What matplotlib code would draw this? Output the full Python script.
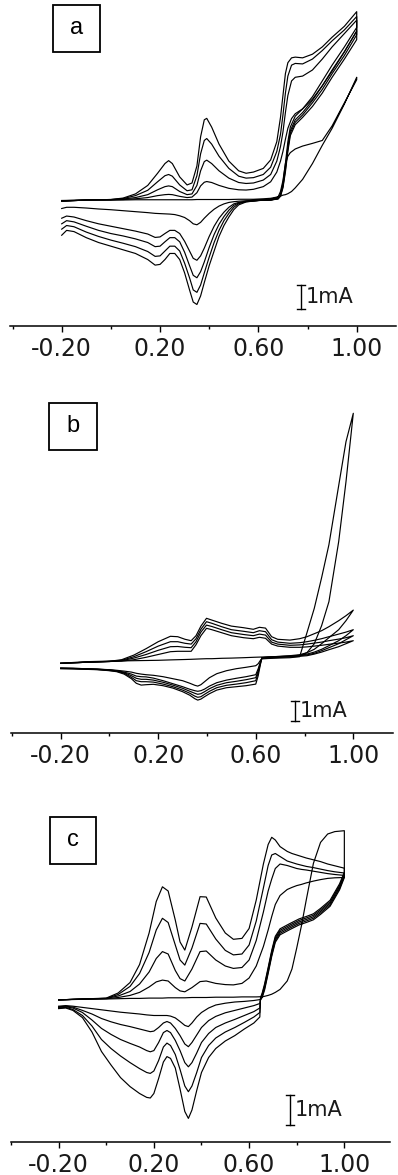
import matplotlib.pyplot as plt
from matplotlib.patches import Rectangle

W, H = 398, 1175

TICKS = [-0.2, 0.2, 0.6, 1.0]
TICK_LABELS = ['-0.20', '0.20', '0.60', '1.00']
MINOR_TICKS = [-0.4, 0.0, 0.4, 0.8]

# ---------------- panel a : potential (V) and current (mA), cycles 1..5 ----------------
A_FWD_E = [-0.2, -0.1, 0.0, 0.05, 0.1, 0.15, 0.19, 0.22, 0.235, 0.25,
           0.28, 0.31, 0.33, 0.35, 0.365, 0.38, 0.39, 0.41, 0.44, 0.48,
           0.52, 0.55, 0.58, 0.62, 0.65, 0.675, 0.69, 0.70, 0.71, 0.72,
           0.735, 0.75, 0.78, 0.82, 0.86, 0.90, 0.95, 1.0]
A_FWD_I = [
    [-0.02, 0.0, 0.0, 0.0, 0.01, 0.01, 0.01, 0.01, 0.01, 0.01,
     0.01, 0.01, 0.01, 0.02, 0.02, 0.02, 0.02, 0.02, 0.02, 0.02,
     0.03, 0.03, 0.03, 0.05, 0.07, 0.12, 0.16, 0.2, 0.22, 0.26,
     0.35, 0.5, 0.85, 1.5, 2.25, 2.95, 3.95, 5.05],
    [-0.03, 0.0, 0.0, 0.02, 0.05, 0.1, 0.18, 0.22, 0.23, 0.22,
     0.15, 0.1, 0.12, 0.3, 0.58, 0.73, 0.76, 0.72, 0.6, 0.48,
     0.42, 0.41, 0.44, 0.55, 0.75, 1.15, 1.6, 2.0, 2.5, 2.95,
     3.35, 3.55, 3.75, 4.15, 4.7, 5.3, 6.1, 6.95],
    [-0.05, 0.0, 0.01, 0.04, 0.1, 0.22, 0.42, 0.55, 0.58, 0.55,
     0.35, 0.22, 0.25, 0.6, 1.2, 1.58, 1.64, 1.5, 1.2, 0.9,
     0.72, 0.68, 0.7, 0.82, 1.05, 1.6, 2.2, 2.8, 3.6, 4.3,
     4.9, 5.05, 5.1, 5.35, 5.8, 6.3, 6.85, 7.4],
    [-0.05, 0.0, 0.02, 0.06, 0.18, 0.4, 0.75, 1.0, 1.05, 0.98,
     0.62, 0.38, 0.42, 1.0, 1.9, 2.45, 2.53, 2.3, 1.8, 1.3,
     0.98, 0.9, 0.92, 1.05, 1.35, 2.0, 2.7, 3.5, 4.4, 5.1,
     5.55, 5.62, 5.6, 5.8, 6.15, 6.55, 7.0, 7.55],
    [-0.05, 0.0, 0.02, 0.08, 0.25, 0.6, 1.1, 1.5, 1.62, 1.5,
     0.95, 0.62, 0.7, 1.4, 2.6, 3.3, 3.36, 3.0, 2.3, 1.6,
     1.2, 1.1, 1.15, 1.3, 1.65, 2.4, 3.4, 4.3, 5.2, 5.65,
     5.85, 5.88, 5.85, 6.0, 6.3, 6.7, 7.15, 7.75],
]
A_REV_E = [1.0, 0.95, 0.90, 0.86, 0.82, 0.78, 0.75, 0.73, 0.72, 0.71,
           0.70, 0.69, 0.68, 0.65, 0.60, 0.55, 0.52, 0.50, 0.48, 0.46,
           0.44, 0.42, 0.40, 0.38, 0.365, 0.35, 0.335, 0.32, 0.30, 0.28,
           0.26, 0.24, 0.22, 0.20, 0.18, 0.15, 0.10, 0.05, 0.0, -0.05,
           -0.10, -0.15, -0.18, -0.2]
A_REV_I = [
    [4.95, 4.0, 3.05, 2.45, 2.33, 2.22, 2.1, 1.95, 1.8, 1.5,
     0.8, 0.35, 0.12, 0.02, -0.01, -0.03, -0.05, -0.07, -0.1, -0.16,
     -0.25, -0.38, -0.55, -0.75, -0.92, -1.02, -0.98, -0.85, -0.72, -0.65,
     -0.6, -0.58, -0.57, -0.56, -0.55, -0.52, -0.48, -0.44, -0.4, -0.37,
     -0.33, -0.3, -0.3, -0.35],
    [6.6, 5.8, 5.05, 4.4, 3.85, 3.4, 3.1, 2.65, 2.0, 1.15,
     0.5, 0.15, 0.04, 0.0, -0.02, -0.05, -0.1, -0.16, -0.3, -0.5,
     -0.75, -1.08, -1.5, -1.98, -2.3, -2.48, -2.4, -2.1, -1.7, -1.38,
     -1.25, -1.25, -1.38, -1.52, -1.54, -1.4, -1.28, -1.18, -1.08, -0.98,
     -0.85, -0.7, -0.66, -0.75],
    [6.8, 5.95, 5.2, 4.55, 4.0, 3.5, 3.2, 2.75, 2.1, 1.25,
     0.55, 0.18, 0.05, 0.0, -0.02, -0.06, -0.12, -0.22, -0.42, -0.68,
     -1.0, -1.42, -1.95, -2.55, -2.95, -3.2, -3.1, -2.7, -2.15, -1.72,
     -1.55, -1.55, -1.72, -1.9, -1.92, -1.75, -1.6, -1.48, -1.38, -1.25,
     -1.08, -0.9, -0.85, -0.98],
    [6.95, 6.1, 5.35, 4.7, 4.1, 3.6, 3.3, 2.85, 2.2, 1.35,
     0.6, 0.2, 0.06, 0.0, -0.02, -0.07, -0.15, -0.3, -0.55, -0.85,
     -1.25, -1.75, -2.35, -3.0, -3.5, -3.8, -3.7, -3.2, -2.6, -2.1,
     -1.9, -1.9, -2.1, -2.3, -2.32, -2.12, -1.92, -1.78, -1.65, -1.5,
     -1.32, -1.1, -1.05, -1.2],
    [7.1, 6.3, 5.55, 4.9, 4.25, 3.75, 3.45, 3.0, 2.4, 1.5,
     0.7, 0.25, 0.08, 0.0, -0.02, -0.08, -0.2, -0.4, -0.7, -1.05,
     -1.5, -2.1, -2.7, -3.4, -3.95, -4.3, -4.2, -3.7, -3.0, -2.45,
     -2.2, -2.2, -2.45, -2.65, -2.68, -2.45, -2.2, -2.05, -1.9, -1.75,
     -1.55, -1.3, -1.25, -1.45],
]

# ---------------- panel b ----------------
B_FWD_E = [-0.2, -0.1, 0.0, 0.05, 0.1, 0.15, 0.2, 0.25, 0.28, 0.31,
           0.335, 0.355, 0.375, 0.398, 0.42, 0.46, 0.5, 0.55, 0.59, 0.615,
           0.64, 0.665, 0.69, 0.74, 0.78, 0.81, 0.84, 0.87, 0.90, 0.94,
           0.97, 1.0]
B_FWD_I = [
    [-0.08, 0.0, 0.03, 0.04, 0.05, 0.06, 0.07, 0.09, 0.1, 0.11,
     0.12, 0.13, 0.14, 0.15, 0.15, 0.17, 0.18, 0.2, 0.22, 0.23,
     0.24, 0.25, 0.26, 0.27, 0.3, 0.45, 0.9, 1.8, 3.0, 6.0,
     9.0, 12.42],
    [-0.08, -0.03, 0.01, 0.03, 0.1, 0.22, 0.36, 0.5, 0.52, 0.52,
     0.52, 0.85, 1.3, 1.67, 1.6, 1.45, 1.3, 1.2, 1.15, 1.22,
     1.17, 0.88, 0.78, 0.72, 0.72, 0.74, 0.78, 0.82, 0.87, 0.93,
     0.98, 1.05],
    [-0.08, -0.03, 0.01, 0.05, 0.18, 0.36, 0.57, 0.75, 0.76, 0.72,
     0.7, 1.0, 1.48, 1.83, 1.76, 1.6, 1.45, 1.36, 1.3, 1.38,
     1.33, 0.98, 0.88, 0.82, 0.84, 0.88, 0.93, 0.98, 1.05, 1.13,
     1.2, 1.3],
    [-0.08, -0.03, 0.01, 0.07, 0.25, 0.5, 0.78, 1.0, 1.0, 0.92,
     0.88, 1.15, 1.62, 2.0, 1.92, 1.75, 1.6, 1.52, 1.45, 1.55,
     1.5, 1.1, 0.98, 0.92, 0.95, 1.0, 1.07, 1.15, 1.25, 1.38,
     1.48, 1.6],
    [-0.08, -0.03, 0.02, 0.1, 0.33, 0.65, 1.0, 1.27, 1.25, 1.12,
     1.05, 1.3, 1.78, 2.17, 2.08, 1.92, 1.78, 1.7, 1.62, 1.72,
     1.68, 1.25, 1.12, 1.08, 1.15, 1.25, 1.4, 1.55, 1.75, 2.05,
     2.3, 2.58],
]
B_REV_E = [1.0, 0.97, 0.94, 0.90, 0.87, 0.84, 0.81, 0.78, 0.74, 0.69,
           0.65, 0.625, 0.618, 0.61, 0.60, 0.56, 0.52, 0.48, 0.44, 0.41,
           0.39, 0.375, 0.362, 0.35, 0.33, 0.30, 0.26, 0.22, 0.18, 0.15,
           0.13, 0.11, 0.09, 0.06, 0.03, 0.0, -0.05, -0.1, -0.15, -0.2]
B_REV_I = [
    [12.42, 11.0, 8.8, 5.85, 4.2, 2.67, 1.45, 0.25, 0.2, 0.18,
     0.16, 0.14, 0.05, -0.1, -0.2, -0.28, -0.35, -0.45, -0.6, -0.8,
     -1.0, -1.15, -1.22, -1.18, -1.08, -0.95, -0.85, -0.75, -0.68, -0.65,
     -0.62, -0.58, -0.52, -0.47, -0.43, -0.4, -0.37, -0.35, -0.33, -0.32],
    [1.05, 0.9, 0.75, 0.6, 0.48, 0.38, 0.3, 0.27, 0.24, 0.21,
     0.19, 0.17, -0.05, -0.35, -0.65, -0.75, -0.83, -0.92, -1.05, -1.22,
     -1.37, -1.45, -1.48, -1.45, -1.38, -1.25, -1.1, -0.95, -0.82, -0.76,
     -0.75, -0.72, -0.62, -0.52, -0.45, -0.41, -0.37, -0.35, -0.33, -0.32],
    [1.3, 1.1, 0.9, 0.7, 0.55, 0.42, 0.34, 0.3, 0.26, 0.23,
     0.21, 0.19, -0.1, -0.45, -0.8, -0.9, -0.98, -1.05, -1.18, -1.35,
     -1.5, -1.6, -1.63, -1.58, -1.48, -1.33, -1.17, -1.03, -0.92, -0.88,
     -0.88, -0.83, -0.7, -0.55, -0.46, -0.42, -0.38, -0.36, -0.34, -0.33],
    [1.6, 1.3, 1.05, 0.8, 0.62, 0.48, 0.38, 0.32, 0.28, 0.25,
     0.22, 0.2, -0.15, -0.55, -0.95, -1.05, -1.12, -1.18, -1.3, -1.48,
     -1.63, -1.75, -1.78, -1.72, -1.58, -1.42, -1.25, -1.12, -1.02, -1.0,
     -1.0, -0.95, -0.78, -0.58, -0.48, -0.44, -0.39, -0.37, -0.35, -0.34],
    [2.58, 2.05, 1.6, 1.2, 0.9, 0.62, 0.45, 0.35, 0.3, 0.26,
     0.23, 0.2, -0.2, -0.7, -1.12, -1.2, -1.25, -1.3, -1.42, -1.6,
     -1.75, -1.87, -1.92, -1.85, -1.68, -1.5, -1.32, -1.2, -1.13, -1.15,
     -1.17, -1.08, -0.85, -0.62, -0.5, -0.45, -0.4, -0.38, -0.36, -0.35],
]

# ---------------- panel c ----------------
C_FWD_E = [-0.2, -0.1, 0.0, 0.05, 0.1, 0.14, 0.18, 0.21, 0.236, 0.26,
           0.29, 0.31, 0.33, 0.36, 0.394, 0.42, 0.46, 0.5, 0.534, 0.57,
           0.6, 0.63, 0.66, 0.68, 0.695, 0.71, 0.73, 0.76, 0.78, 0.80,
           0.82, 0.84, 0.87, 0.90, 0.93, 0.96, 1.0]
C_FWD_I = [
    [-0.03, -0.01, 0.0, 0.01, 0.02, 0.02, 0.03, 0.03, 0.03, 0.04,
     0.04, 0.04, 0.04, 0.05, 0.05, 0.05, 0.06, 0.06, 0.06, 0.07,
     0.07, 0.07, 0.08, 0.12, 0.16, 0.22, 0.32, 0.6, 1.0, 1.7,
     2.45, 3.3, 4.52, 5.22, 5.5, 5.58, 5.61],
    [-0.03, 0.0, 0.01, 0.05, 0.12, 0.22, 0.4, 0.57, 0.63, 0.6,
     0.38, 0.27, 0.24, 0.38, 0.58, 0.6, 0.52, 0.48, 0.47, 0.52,
     0.7, 1.1, 1.75, 2.3, 2.75, 3.15, 3.45, 3.65, 3.72, 3.78,
     3.82, 3.87, 3.93, 3.98, 4.02, 4.04, 4.05],
    [-0.03, 0.0, 0.02, 0.1, 0.25, 0.5, 0.9, 1.35, 1.58, 1.5,
     0.95, 0.68, 0.6, 1.0, 1.58, 1.6, 1.3, 1.1, 1.02, 1.05,
     1.3, 1.95, 2.9, 3.6, 4.0, 4.35, 4.5, 4.45, 4.4, 4.35,
     4.32, 4.3, 4.26, 4.22, 4.18, 4.15, 4.12],
    [-0.03, 0.0, 0.02, 0.15, 0.42, 0.85, 1.55, 2.3, 2.69, 2.55,
     1.8, 1.3, 1.13, 1.7, 2.52, 2.5, 2.0, 1.62, 1.47, 1.5,
     1.8, 2.6, 3.7, 4.45, 4.8, 4.85, 4.75, 4.6, 4.55, 4.5,
     4.46, 4.42, 4.38, 4.33, 4.28, 4.24, 4.2],
    [-0.03, 0.0, 0.03, 0.2, 0.55, 1.15, 2.2, 3.25, 3.74, 3.6,
     2.63, 1.9, 1.63, 2.4, 3.41, 3.4, 2.7, 2.2, 1.99, 2.02,
     2.35, 3.3, 4.5, 5.15, 5.39, 5.3, 5.08, 4.92, 4.85, 4.8,
     4.75, 4.7, 4.64, 4.58, 4.5, 4.44, 4.36],
]
C_REV_E = [1.0, 0.98, 0.94, 0.9, 0.87, 0.84, 0.81, 0.77, 0.73, 0.71,
           0.695, 0.68, 0.665, 0.655, 0.648, 0.645, 0.62, 0.58, 0.54, 0.5,
           0.46, 0.43, 0.40, 0.38, 0.36, 0.345, 0.33, 0.31, 0.29, 0.27,
           0.255, 0.24, 0.22, 0.2, 0.185, 0.17, 0.14, 0.1, 0.06, 0.02,
           -0.02, -0.06, -0.1, -0.14, -0.17, -0.2]
C_REV_I = [
    [4.05, 3.64, 3.09, 2.82, 2.64, 2.55, 2.47, 2.31, 2.14, 1.89,
     1.42, 0.85, 0.3, 0.05, -0.02, -0.02, -0.05, -0.08, -0.1, -0.14,
     -0.2, -0.3, -0.45, -0.6, -0.8, -0.92, -0.88, -0.75, -0.63, -0.57,
     -0.55, -0.55, -0.55, -0.55, -0.54, -0.53, -0.5, -0.47, -0.44, -0.4,
     -0.36, -0.32, -0.28, -0.24, -0.22, -0.24],
    [4.08, 3.69, 3.14, 2.87, 2.69, 2.6, 2.52, 2.36, 2.19, 1.94,
     1.47, 0.9, 0.35, 0.08, -0.03, -0.15, -0.22, -0.3, -0.38, -0.46,
     -0.58, -0.72, -0.95, -1.2, -1.45, -1.59, -1.5, -1.22, -0.98, -0.8,
     -0.75, -0.8, -0.95, -1.07, -1.09, -1.06, -1.0, -0.92, -0.85, -0.76,
     -0.65, -0.5, -0.38, -0.27, -0.24, -0.26],
    [4.13, 3.74, 3.19, 2.92, 2.74, 2.65, 2.57, 2.41, 2.24, 1.99,
     1.52, 0.95, 0.4, 0.12, 0.0, -0.3, -0.42, -0.55, -0.68, -0.8,
     -0.95, -1.15, -1.45, -1.8, -2.12, -2.26, -2.12, -1.72, -1.38, -1.12,
     -1.05, -1.12, -1.45, -1.72, -1.76, -1.72, -1.6, -1.48, -1.35, -1.18,
     -0.98, -0.7, -0.45, -0.3, -0.26, -0.28],
    [4.18, 3.79, 3.24, 2.97, 2.79, 2.7, 2.62, 2.46, 2.29, 2.04,
     1.57, 1.0, 0.45, 0.16, 0.03, -0.45, -0.6, -0.78, -0.95, -1.1,
     -1.3, -1.55, -1.95, -2.45, -2.9, -3.09, -2.9, -2.35, -1.85, -1.55,
     -1.47, -1.6, -2.05, -2.4, -2.48, -2.45, -2.32, -2.12, -1.9, -1.65,
     -1.35, -0.9, -0.55, -0.35, -0.28, -0.3],
    [4.23, 3.84, 3.29, 3.02, 2.84, 2.75, 2.67, 2.51, 2.34, 2.09,
     1.62, 1.05, 0.5, 0.2, 0.05, -0.6, -0.8, -1.0, -1.22, -1.4,
     -1.65, -1.95, -2.45, -3.05, -3.7, -3.98, -3.75, -3.0, -2.3, -1.98,
     -1.92, -2.1, -2.65, -3.15, -3.3, -3.28, -3.15, -2.92, -2.62, -2.2,
     -1.75, -1.1, -0.62, -0.38, -0.3, -0.32],
]

fig = plt.figure(figsize=(W / 100, H / 100), dpi=100)


def add_panel(letter, fwd_e, fwd_i, rev_e, rev_i, lay):
    # lay holds the pixel geometry of one panel
    p_lo, p_hi = lay['e_px']          # pixel x of -0.2 V and 1.0 V
    x0, x1 = lay['x_span']
    axis_y, zero_y, per_ma, top = lay['axis_y'], lay['zero_y'], lay['ma_px'], lay['top']

    def e_of(px):
        return -0.2 + (px - p_lo) / (p_hi - p_lo) * 1.2

    def i_of(py):
        return (zero_y - py) / per_ma

    ax = fig.add_axes([x0 / W, 1 - axis_y / H, (x1 - x0) / W, (axis_y - top) / H])
    ax.set_xlim(e_of(x0), e_of(x1))
    ax.set_ylim(i_of(axis_y), i_of(top))
    ax.patch.set_visible(False)

    for k in range(len(fwd_i)):
        ax.plot(fwd_e + rev_e, fwd_i[k] + rev_i[k], color='black', lw=0.85,
                solid_joinstyle='round')

    for s in ['top', 'left', 'right']:
        ax.spines[s].set_visible(False)
    ax.spines['bottom'].set_linewidth(1.1)
    ax.set_yticks([])
    ax.set_xticks(TICKS)
    ax.set_xticklabels(TICK_LABELS, fontsize=17, family='DejaVu Sans', color='#1a1a1a')
    ax.set_xticks(MINOR_TICKS, minor=True)
    ax.tick_params(axis='x', which='major', direction='out', length=4, width=1.0, pad=4)
    ax.tick_params(axis='x', which='minor', direction='out', length=2.2, width=1.0)

    # scale bar of 1 mA
    bx, by = lay['bar']
    eb = e_of(bx)
    cap = (e_of(bx + 4) - e_of(bx - 4)) / 2
    yb0, yb1 = i_of(by + per_ma), i_of(by)
    ax.plot([eb, eb], [yb0, yb1], color='black', lw=1.0)
    ax.plot([eb - cap, eb + cap], [yb0, yb0], color='black', lw=1.0)
    ax.plot([eb - cap, eb + cap], [yb1, yb1], color='black', lw=1.0)
    fig.text((bx + 5) / W, 1 - (by + per_ma / 2) / H, '1mA', fontsize=15,
             family='DejaVu Sans', color='#1a1a1a', va='center', ha='left')

    # letter box
    lx0, ly0, lx1, ly1 = lay['box']
    fig.add_artist(Rectangle((lx0 / W, 1 - ly1 / H), (lx1 - lx0) / W, (ly1 - ly0) / H,
                             transform=fig.transFigure, fill=False, ec='black', lw=1.3))
    fig.text((lx0 + lx1) / 2 / W, 1 - (ly0 + ly1) / 2 / H, letter, fontsize=17,
             family='Liberation Sans', ha='center', va='center', color='black')


add_panel('a', A_FWD_E, A_FWD_I, A_REV_E, A_REV_I,
          dict(e_px=(61.7, 356.7), x_span=(10, 396), axis_y=326, zero_y=200,
               ma_px=24.3, top=0, bar=(301, 285), box=(53, 5, 100, 52)))
add_panel('b', B_FWD_E, B_FWD_I, B_REV_E, B_REV_I,
          dict(e_px=(60.7, 353.3), x_span=(11, 393), axis_y=733, zero_y=661.7,
               ma_px=20, top=380, bar=(295, 700.7), box=(49, 403, 97, 450)))
add_panel('c', C_FWD_E, C_FWD_I, C_REV_E, C_REV_I,
          dict(e_px=(58.3, 344.3), x_span=(11, 390), axis_y=1141.7, zero_y=999,
               ma_px=30, top=800, bar=(290, 1095), box=(50, 817, 96, 864)))

fig.savefig('out.png', dpi=100, facecolor='white')
